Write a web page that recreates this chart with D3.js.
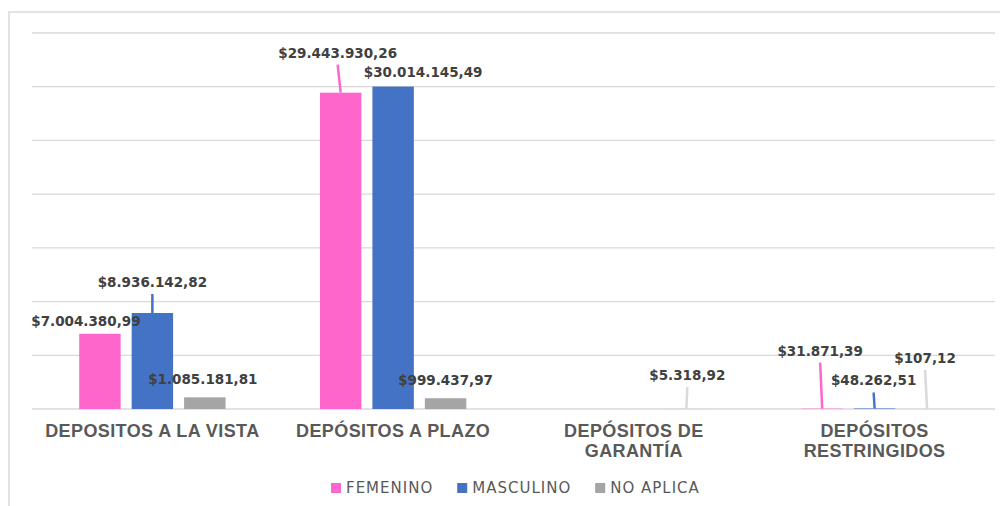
<!DOCTYPE html>
<html lang="en">
<head>
<meta charset="utf-8">
<script src="https://d3js.org/d3.v7.min.js"></script>
<style>
  body { margin: 0; background: #fff; }
  svg { display: block; }
</style>
</head>
<body>
<div id="chart"></div>
<script>
// data
const categories = ["DEPOSITOS A LA VISTA", "DEPÓSITOS A PLAZO", "DEPÓSITOS DE\nGARANTÍA", "DEPÓSITOS\nRESTRINGIDOS"];
const seriesNames = ["FEMENINO", "MASCULINO", "NO APLICA"];
const femenino  = [7004380.99, 29443930.26, null, 31871.39];
const masculino = [8936142.82, 30014145.49, null, 48262.51];
const noAplica  = [1085181.81, 999437.97, 5318.92, 107.12];
const yTicks = [0, 5e6, 10e6, 15e6, 20e6, 25e6, 30e6, 35e6];

// where each label sits relative to its bar top (Excel moved some of them)
const labelShift = {
  "FEMENINO":  [[-14, -8], [-3, -35], null, [-2, -53]],
  "MASCULINO": [[0, -26], [30, -10], null, [-1, -23]],
  "NO APLICA": [[-2, -13], [0, -13], [1, -29], [-2, -46]]
};

const colors = { "FEMENINO": "#FF66CC", "MASCULINO": "#4472C4", "NO APLICA": "#A5A5A5" };
const leaderColors = { "FEMENINO": "#FF66CC", "MASCULINO": "#4472C4", "NO APLICA": "#DADADA" };

const width = 1000, height = 506;
const plotLeft = 32, plotRight = 995, plotTop = 33, plotBottom = 409;

const svg = d3.select("#chart").append("svg")
  .attr("width", width)
  .attr("height", height);

// chart frame (runs off the picture at right and bottom)
svg.append("path")
  .attr("d", `M9,${height + 5} L9,12 L${width + 5},12`)
  .attr("fill", "none")
  .attr("stroke", "#D9D9D9")
  .attr("stroke-width", 1.5);

const y = d3.scaleLinear().domain([0, 35e6]).range([plotBottom, plotTop]);
const x0 = d3.scaleBand().domain(categories).range([plotLeft, plotRight]).padding(0);
const x1 = d3.scaleBand().domain(seriesNames)
  .range([0, x0.bandwidth()])
  .paddingInner(0.21)
  .paddingOuter(0.9);

// gridlines
svg.append("g")
  .selectAll("line")
  .data(yTicks)
  .join("line")
  .attr("x1", plotLeft).attr("x2", plotRight)
  .attr("y1", d => y(d)).attr("y2", d => y(d))
  .attr("stroke", "#D9D9D9")
  .attr("stroke-width", 1.3);

const seriesValues = { "FEMENINO": femenino, "MASCULINO": masculino, "NO APLICA": noAplica };

const fmt = v => {
  const parts = v.toFixed(2).split(".");
  return "$" + parts[0].replace(/\B(?=(\d{3})+(?!\d))/g, ".") + "," + parts[1];
};

const points = [];
seriesNames.forEach(s => {
  seriesValues[s].forEach((v, i) => {
    if (v == null) return;
    points.push({ series: s, cat: categories[i], i: i, value: v });
  });
});

// bars
svg.append("g")
  .selectAll("rect")
  .data(points)
  .join("rect")
  .attr("x", d => x0(d.cat) + x1(d.series))
  .attr("y", d => y(d.value))
  .attr("width", x1.bandwidth())
  .attr("height", d => plotBottom - y(d.value))
  .attr("fill", d => colors[d.series]);

// labels + leader lines
const lab = svg.append("g");
points.forEach(d => {
  const cx = x0(d.cat) + x1(d.series) + x1.bandwidth() / 2;
  const ty = y(d.value);
  const sh = labelShift[d.series][d.i];
  const lx = cx + sh[0], ly = ty + sh[1];
  if (sh[1] < -20) {
    lab.append("line")
      .attr("x1", lx).attr("y1", ly + 7)
      .attr("x2", cx).attr("y2", ty)
      .attr("stroke", leaderColors[d.series])
      .attr("stroke-width", 2.5);
  }
  lab.append("text")
    .attr("x", lx).attr("y", ly)
    .attr("text-anchor", "middle")
    .style("font-family", "DejaVu Sans, Verdana, sans-serif")
    .style("font-weight", "bold")
    .style("font-size", "13.5px")
    .style("fill", "#404040")
    .text(fmt(d.value));
});

// category labels
const cat = svg.append("g");
categories.forEach(c => {
  const t = cat.append("text")
    .attr("x", x0(c) + x0.bandwidth() / 2)
    .attr("y", 437)
    .attr("text-anchor", "middle")
    .style("font-family", "Liberation Sans, Arial, sans-serif")
    .style("font-weight", "bold")
    .style("font-size", "18px")
    .style("letter-spacing", "0.4px")
    .style("fill", "#595959");
  c.split("\n").forEach((line, k) => {
    t.append("tspan")
      .attr("x", x0(c) + x0.bandwidth() / 2)
      .attr("dy", k === 0 ? 0 : 19.5)
      .text(line);
  });
});

// legend
const legend = svg.append("g");
let legX = 331;
seriesNames.forEach(s => {
  legend.append("rect")
    .attr("x", legX).attr("y", 483)
    .attr("width", 10).attr("height", 10)
    .attr("fill", colors[s]);
  const t = legend.append("text")
    .attr("x", legX + 15).attr("y", 493)
    .style("font-family", "DejaVu Sans, Verdana, sans-serif")
    .style("font-size", "15px")
    .style("letter-spacing", "1px")
    .style("fill", "#595959")
    .text(s);
  legX += 15 + t.node().getComputedTextLength() + 24;
});
</script>
</body>
</html>
